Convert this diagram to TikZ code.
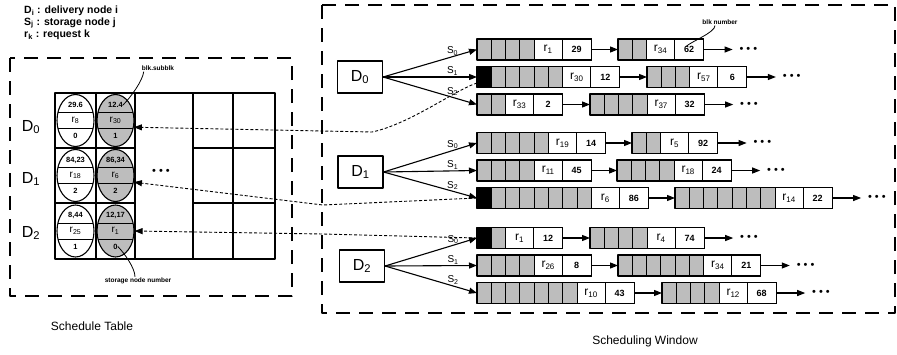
\documentclass[tikz,border=0pt]{standalone}
\usepackage{fontspec}
\setmainfont{Liberation Sans}
\usetikzlibrary{arrows.meta,positioning,shapes.geometric}

\definecolor{cellgray}{gray}{0.74}

\tikzset{
  winframe/.style={line width=1.2pt, dash pattern=on 14pt off 9pt},
  dbox/.style={draw, line width=1.1pt, minimum width=45pt, minimum height=32pt, inner sep=0pt, font=\fontsize{16}{16}\selectfont},
  reqcell/.style={draw, line width=1.1pt, minimum width=28pt, minimum height=21pt, inner sep=0pt, outer sep=0pt, font=\fontsize{12}{12}\selectfont},
  numcell/.style={draw, line width=1.1pt, minimum width=29pt, minimum height=21pt, inner sep=0pt, outer sep=0pt, font=\fontsize{9}{9}\selectfont\bfseries},
  feed/.style={line width=1.1pt, -{Triangle[length=8pt,width=6pt]}},
  backlink/.style={line width=0.9pt, dash pattern=on 3pt off 2pt, -{Triangle[length=8pt,width=6pt]}},
  slot/.style={ellipse, draw, line width=1.1pt, minimum width=37pt, minimum height=52pt, inner sep=0pt},
  slottext/.style={inner sep=0pt, font=\fontsize{7.5}{7.5}\selectfont\bfseries},
  slotreq/.style={inner sep=0pt, font=\fontsize{10}{10}\selectfont},
  moredots/.style={inner sep=0pt, outer sep=7pt, font=\fontsize{11}{11}\selectfont},
  slabel/.style={inner sep=1pt, font=\fontsize{10}{10}\selectfont},
  note/.style={inner sep=1pt, font=\fontsize{6.5}{6.5}\selectfont\bfseries},
  legend/.style={anchor=west, inner sep=0pt, font=\fontsize{10.5}{10.5}\selectfont\bfseries},
}

% one queue segment: name, left x, row y, black cells, grey cells, request, blk number
\newcommand{\qseg}[7]{%
  \pgfmathtruncatemacro{\qn}{#4+#5}
  \coordinate (#1-w) at (#2,#3);
  \fill[cellgray] (#2,#3-10.5) rectangle ++(\qn*14.3,21);
  \ifnum#4>0 \fill[black] (#2,#3-10.5) rectangle ++(14.3,21);\fi
  \foreach \k in {1,...,\qn} {\draw[line width=0.9pt] (#2+\k*14.3,#3-10.5) -- ++(0,21);}
  \node[reqcell] (#1-r) at (#2+\qn*14.3+14,#3) {r\textsubscript{#6}};
  \node[numcell, right=0pt of #1-r] (#1-n) {#7};
  \draw[line width=1.1pt] (#1-w |- #1-r.north) rectangle (#1-n.south east);
}

% one table entry: name, centre x, centre y, fill, top, request, bottom
\newcommand{\slotentry}[7]{%
  \node[slot, fill=#4] (#1) at (#2,#3) {};
  \draw[line width=0.9pt] (#2-17.4,#3-8) -- (#2+17.4,#3-8);
  \draw[line width=0.9pt] (#2-17.4,#3+8) -- (#2+17.4,#3+8);
  \node[slottext] (#1-t) at (#2,#3-15.5) {#5};
  \node[slotreq] (#1-m) at (#2,#3) {r\textsubscript{#6}};
  \node[slottext] (#1-b) at (#2,#3+15.5) {#7};
}

\begin{document}
\begin{tikzpicture}[x=1pt, y=-1pt, line join=round]
  \useasboundingbox (0,0) rectangle (897,354);

  % --- legend ---
  \node[legend] (leg-d) at (24,11) {D\textsubscript{i} : delivery node i};
  \node[legend] (leg-s) at (24,23) {S\textsubscript{j} : storage node j};
  \node[legend] (leg-r) at (24,35) {r\textsubscript{k} : request k};

  % --- frames ---
  \draw[winframe] (10,58) rectangle (292,296);
  \draw[winframe] (322,5) rectangle (895,313);
  \node[font=\fontsize{12}{12}\selectfont] (cap-table) at (92,326) {Schedule Table};
  \node[font=\fontsize{12}{12}\selectfont] (cap-window) at (645,341) {Scheduling Window};

  % === schedule table ===
  \draw[line width=1.1pt] (55,93) rectangle (275,259);
  \foreach \x in {96,135,193,233} \draw[line width=1.1pt] (\x,93) -- (\x,259);
  \foreach \y in {148,203} {
    \draw[line width=1.1pt] (55,\y) -- (135,\y);
    \draw[line width=1.1pt] (193,\y) -- (275,\y);
  }
  \slotentry{t0a}{75.5}{120.5}{white}{29.6}{8}{0}
  \slotentry{t0b}{115.5}{120.5}{cellgray}{12.4}{30}{1}
  \slotentry{t1a}{75.5}{175.5}{white}{84,23}{18}{2}
  \slotentry{t1b}{115.5}{175.5}{cellgray}{86,34}{6}{2}
  \slotentry{t2a}{75.5}{231}{white}{8,44}{25}{1}
  \slotentry{t2b}{115.5}{231}{cellgray}{12,17}{1}{0}
  \node[moredots, outer sep=0pt] (t-more) at (161,172) {\textbullet\hspace{3pt}\textbullet\hspace{3pt}\textbullet};

  \node[font=\fontsize{16}{16}\selectfont] (row-d0) at (31,127) {D\textsubscript{0}};
  \node[font=\fontsize{16}{16}\selectfont] (row-d1) at (31,179) {D\textsubscript{1}};
  \node[font=\fontsize{16}{16}\selectfont] (row-d2) at (31,233) {D\textsubscript{2}};

  \node[note] (lbl-sub) at (158,68) {blk.subblk};
  \draw[line width=0.8pt] ([xshift=3pt]lbl-sub.south west) .. controls +(-1,9) and +(8,-8) .. (t0b-t.east);
  \node[note] (lbl-store) at (138,281) {storage node number};
  \draw[line width=0.8pt] ([xshift=-3pt]lbl-store.north) .. controls +(0,-9) and +(6,6) .. (t2b-b.east);

  % === scheduling window ===
  \node[dbox] (d0) at (360,77) {D\textsubscript{0}};
  \node[dbox] (d1) at (360.5,172) {D\textsubscript{1}};
  \node[dbox] (d2) at (362,266) {D\textsubscript{2}};

  % --- D0 queues ---
  \qseg{d0s0a}{477}{49.5}{0}{4}{1}{29}
  \qseg{d0s0b}{618}{49.5}{0}{2}{34}{62}
  \qseg{d0s1a}{477}{77}{1}{5}{30}{12}
  \qseg{d0s1b}{647}{77}{0}{3}{57}{6}
  \qseg{d0s2a}{477}{104.5}{0}{2}{33}{2}
  \qseg{d0s2b}{590}{104.5}{0}{4}{37}{32}

  % --- D1 queues ---
  \qseg{d1s0a}{477}{143}{0}{5}{19}{14}
  \qseg{d1s0b}{632}{143}{0}{2}{5}{92}
  \qseg{d1s1a}{477}{170.5}{0}{4}{11}{45}
  \qseg{d1s1b}{617}{170.5}{0}{4}{18}{24}
  \qseg{d1s2a}{477}{198}{1}{7}{6}{86}
  \qseg{d1s2b}{675}{198}{0}{7}{14}{22}

  % --- D2 queues ---
  \qseg{d2s0a}{477}{238}{1}{1}{1}{12}
  \qseg{d2s0b}{590}{238}{0}{4}{4}{74}
  \qseg{d2s1a}{477}{265.5}{0}{4}{26}{8}
  \qseg{d2s1b}{618}{265.5}{0}{6}{34}{21}
  \qseg{d2s2a}{477}{293}{0}{7}{10}{43}
  \qseg{d2s2b}{662}{293}{0}{4}{12}{68}

  % --- links between segments, then more ---
  \foreach \q in {d0s0,d0s1,d0s2,d1s0,d1s1,d1s2,d2s0,d2s1,d2s2} {
    \draw[feed] (\q a-n) -- (\q b-w);
    \node[moredots, right=29pt of \q b-n] (\q-more) {\textbullet\hspace{3pt}\textbullet\hspace{3pt}\textbullet};
    \draw[feed] (\q b-n) -- (\q-more);
  }

  % --- delivery node to storage nodes ---
  \foreach \d in {0,1,2} {
    \draw[feed] (d\d.east) -- (d\d s0a-w) node[slabel, pos=0.74, above] {S\textsubscript{0}};
    \draw[feed] (d\d.east) -- (d\d s1a-w) node[slabel, pos=0.74, above] {S\textsubscript{1}};
    \draw[feed] (d\d.east) -- (d\d s2a-w) node[slabel, pos=0.74, above] {S\textsubscript{2}};
  }

  \node[note] (lbl-blk) at (720,22) {blk number};
  \draw[line width=0.8pt] ([xshift=-5pt]lbl-blk.south) .. controls +(0,7) and +(5,-5) .. ([xshift=-3pt,yshift=3pt]d0s0b-n.center);

  % === dispatched blocks back to the table ===
  \draw[backlink] ([yshift=-6pt]d0s1a-w) .. controls (455,90) and (410,124) .. (372,132) -- (t0b.-20);
  \draw[backlink] (d1s2a-w) -- (323,205) -- (t1b.-20);
  \draw[backlink] (d2s0a-w) -- (323,234) -- (t2b.east);
\end{tikzpicture}
\end{document}
